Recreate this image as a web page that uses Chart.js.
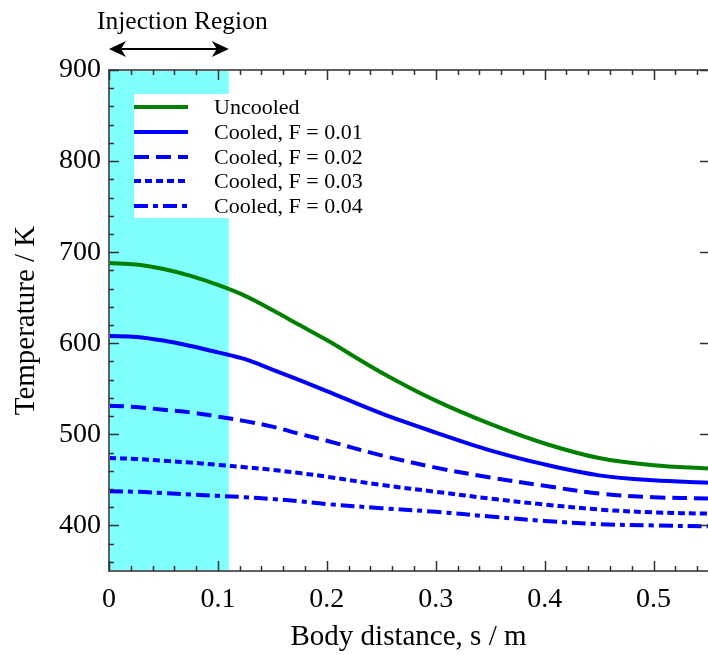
<!DOCTYPE html>
<html>
<head>
<meta charset="utf-8">
<script src="https://cdn.jsdelivr.net/npm/chart.js@4/dist/chart.umd.min.js"></script>
<style>
  html, body { margin: 0; padding: 0; background: #ffffff; }
  #wrap { width: 708px; height: 655px; }
</style>
</head>
<body>
<div id="wrap"><canvas id="chart" width="708" height="655"></canvas></div>
<script>
// Body distance along the surface (m)
const distance = [0, 0.025, 0.05, 0.075, 0.1, 0.125, 0.15, 0.175, 0.2, 0.25, 0.3, 0.35, 0.4, 0.45, 0.5, 0.55];

// Wall temperature (K) for each case
const uncooled = [688, 686.5, 681.5, 674, 664, 652, 636.5, 620, 603.5, 568, 537, 511.5, 490, 474, 466, 462.5];
const cooledF001 = [608, 607, 603, 597, 590, 582.5, 571, 559.5, 547.5, 523, 502, 482.5, 467, 455, 449.5, 447];
const cooledF002 = [531.5, 530, 527, 524, 519.5, 514.5, 508.5, 500.5, 493, 477, 463.5, 452.7, 443.5, 435, 431, 429.6];
const cooledF003 = [474, 473, 471, 469, 466.5, 464, 461, 457.5, 453.5, 444.5, 437, 429.5, 423, 417.5, 414.3, 413];
const cooledF004 = [437.5, 437, 435.5, 434, 432.5, 431, 429, 426.5, 423.5, 419, 415, 409.8, 405, 401.5, 400, 399];

const seriesLabels = ['Uncooled', 'Cooled, F = 0.01', 'Cooled, F = 0.02', 'Cooled, F = 0.03', 'Cooled, F = 0.04'];

// Axis ticks
const xTicks = [0, 0.1, 0.2, 0.3, 0.4, 0.5];
const yTicks = [400, 500, 600, 700, 800, 900];

// Coolant injection zone (m)
const injectionStart = 0;
const injectionEnd = 0.11;
const regionLabel = 'Injection Region';

const SERIF = '"Liberation Serif", "Times New Roman", serif';
const GREEN = '#008000';
const BLUE = '#0000ff';
const LINE_W = 4;

const styles = [
  { color: GREEN, dash: [] },
  { color: BLUE, dash: [] },
  { color: BLUE, dash: [15, 7] },
  { color: BLUE, dash: [7, 4] },
  { color: BLUE, dash: [14, 5, 5, 5] }
];

const allSeries = [uncooled, cooledF001, cooledF002, cooledF003, cooledF004];

const datasets = allSeries.map((vals, i) => ({
  label: seriesLabels[i],
  data: distance.map((s, k) => ({ x: s, y: vals[k] })),
  borderColor: styles[i].color,
  borderDash: styles[i].dash,
  borderWidth: LINE_W,
  pointRadius: 0,
  fill: false,
  tension: 0.35
}));

// Shaded injection zone, placed behind the curves
const regionShade = {
  id: 'regionShade',
  beforeDatasetsDraw(chart) {
    const { ctx, chartArea, scales } = chart;
    const x0 = scales.x.getPixelForValue(injectionStart);
    const x1 = scales.x.getPixelForValue(injectionEnd);
    ctx.save();
    ctx.fillStyle = '#80ffff';
    ctx.fillRect(x0, chartArea.top, x1 - x0, chartArea.bottom - chartArea.top);
    ctx.restore();
  }
};

// Frame with inward ticks on all four sides
const frameTicks = {
  id: 'frameTicks',
  afterDatasetsDraw(chart) {
    const { ctx, chartArea, scales } = chart;
    const { left, right, top, bottom } = chartArea;
    ctx.save();
    ctx.strokeStyle = '#606060';
    ctx.lineWidth = 2;
    ctx.beginPath();
    ctx.moveTo(right, top); ctx.lineTo(left, top); ctx.lineTo(left, bottom); ctx.lineTo(right, bottom);
    ctx.stroke();

    ctx.lineWidth = 1.5;
    ctx.strokeStyle = '#303030';
    ctx.beginPath();
    // x ticks: major every 0.1, minor every 0.02
    for (let k = 0; k <= 27; k++) {
      const v = k * 0.02;
      const px = Math.round(scales.x.getPixelForValue(v)) + 0.5;
      const len = (k % 5 === 0) ? 10 : 5;
      ctx.moveTo(px, bottom); ctx.lineTo(px, bottom - len);
      ctx.moveTo(px, top); ctx.lineTo(px, top + len);
    }
    // y ticks: major every 100, minor every 20 on the left; major only on the right
    for (let v = 360; v <= 900; v += 20) {
      const py = Math.round(scales.y.getPixelForValue(v)) + 0.5;
      const major = v % 100 === 0;
      const len = major ? 10 : 5;
      ctx.moveTo(left, py); ctx.lineTo(left + len, py);
      if (major) { ctx.moveTo(right, py); ctx.lineTo(right - 8, py); }
    }
    ctx.stroke();
    ctx.restore();
  }
};

// Key box and the annotation above the plot
const keyAndNote = {
  id: 'keyAndNote',
  afterDatasetsDraw(chart) {
    const { ctx, scales } = chart;
    ctx.save();
    // key box
    ctx.fillStyle = '#ffffff';
    ctx.fillRect(134, 94, 250, 124);
    const rows = [107, 132, 157, 181, 206];
    ctx.font = '22px ' + SERIF;
    ctx.textBaseline = 'middle';
    ctx.textAlign = 'left';
    rows.forEach((y, i) => {
      ctx.strokeStyle = styles[i].color;
      ctx.lineWidth = LINE_W;
      ctx.setLineDash(styles[i].dash);
      ctx.beginPath();
      ctx.moveTo(134, y); ctx.lineTo(188, y);
      ctx.stroke();
      ctx.setLineDash([]);
      ctx.fillStyle = '#000000';
      ctx.fillText(seriesLabels[i], 214, y + 1);
    });

    // injection region annotation
    const x0 = scales.x.getPixelForValue(injectionStart);
    const x1 = scales.x.getPixelForValue(injectionEnd);
    const ay = 49;
    ctx.fillStyle = '#000000';
    ctx.font = '25.5px ' + SERIF;
    ctx.textBaseline = 'alphabetic';
    ctx.fillText(regionLabel, 97, 29);
    ctx.strokeStyle = '#000000';
    ctx.lineWidth = 2;
    ctx.beginPath();
    ctx.moveTo(x0 + 10, ay); ctx.lineTo(x1 - 10, ay);
    ctx.stroke();
    ctx.beginPath();
    ctx.moveTo(x0, ay); ctx.lineTo(x0 + 17, ay - 8); ctx.lineTo(x0 + 12, ay); ctx.lineTo(x0 + 17, ay + 8); ctx.closePath();
    ctx.moveTo(x1, ay); ctx.lineTo(x1 - 17, ay - 8); ctx.lineTo(x1 - 12, ay); ctx.lineTo(x1 - 17, ay + 8); ctx.closePath();
    ctx.fill();
    ctx.restore();
  }
};

new Chart(document.getElementById('chart'), {
  type: 'line',
  data: { datasets },
  options: {
    responsive: false,
    animation: false,
    devicePixelRatio: 1,
    layout: { padding: { top: 70, right: 0, left: 0, bottom: 0 } },
    plugins: { legend: { display: false }, tooltip: { enabled: false } },
    scales: {
      x: {
        type: 'linear',
        min: 0,
        max: 0.55,
        afterBuildTicks(scale) { scale.ticks = xTicks.map(v => ({ value: v })); },
        afterFit(scale) { scale.height = 84; },
        grid: { display: false, drawTicks: false },
        border: { display: false },
        ticks: {
          color: '#000000',
          font: { family: SERIF, size: 28 },
          padding: 12,
          maxRotation: 0,
          callback: v => String(Math.round(v * 10) / 10)
        },
        title: {
          display: true,
          text: 'Body distance, s / m',
          color: '#000000',
          font: { family: SERIF, size: 29 },
          padding: { top: 0, bottom: 0 }
        }
      },
      y: {
        type: 'linear',
        min: 350,
        max: 900,
        afterBuildTicks(scale) { scale.ticks = yTicks.map(v => ({ value: v })); },
        afterFit(scale) { scale.width = 109; },
        grid: { display: false, drawTicks: false },
        border: { display: false },
        ticks: {
          color: '#000000',
          font: { family: SERIF, size: 28 },
          padding: 8
        },
        title: {
          display: true,
          text: 'Temperature / K',
          color: '#000000',
          font: { family: SERIF, size: 29 },
          padding: { top: 9, bottom: 0 }
        }
      }
    }
  },
  plugins: [regionShade, frameTicks, keyAndNote]
});
</script>
</body>
</html>
